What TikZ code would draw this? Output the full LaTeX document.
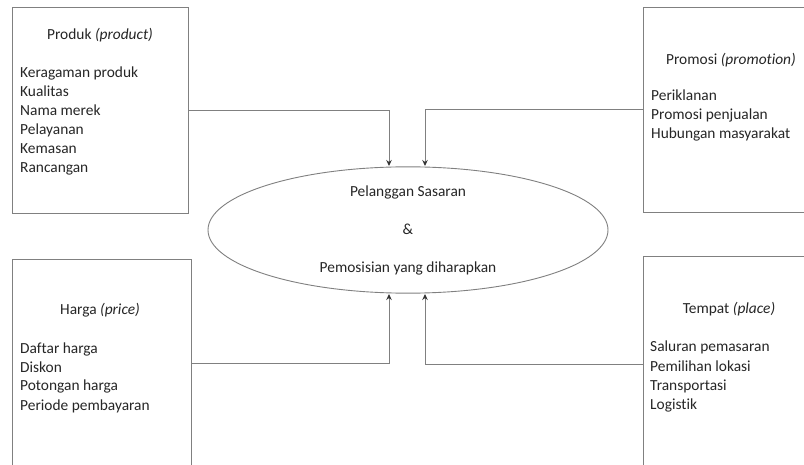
\documentclass[tikz,border=0pt]{standalone}
\usepackage{fontspec}
\setmainfont{Carlito}[Ligatures={NoCommon}]
\usetikzlibrary{shapes.geometric,arrows.meta}

\begin{document}
\begin{tikzpicture}[x=1pt, y=-1pt,
  every node/.style={font=\fontsize{15.4}{19}\selectfont, text=black!85},
  box/.style={draw=black!50, line width=0.9pt, rectangle, inner sep=0pt, anchor=north west},
  title/.style={anchor=base},
  item/.style={anchor=base west, inner sep=0pt},
  link/.style={draw=black!50, line width=0.9pt, -{Stealth[length=6pt, width=5.5pt, black!80]}}]
\clip (0,0) rectangle (804,465);
\fill[white] (0,0) rectangle (804,465);
% four boxes
\node[box, minimum width=176, minimum height=206] (prod) at (12,7) {};
\node[box, minimum width=176, minimum height=205] (prom) at (643,7) {};
\node[box, minimum width=179, minimum height=208] (harga) at (12,259) {};
\node[box, minimum width=176, minimum height=216] (tmpt) at (643,256) {};
\node[title] (prodT) at (100,40) {Produk \textit{(product)}};
\node[title] (promT) at (731,65) {Promosi \textit{(promotion)}};
\node[title] (hargaT) at (100,315) {Harga \textit{(price)}};
\node[title] (tmptT) at (729,314) {Tempat \textit{(place)}};
\foreach \t [count=\i] in {Keragaman produk,Kualitas,Nama merek,Pelayanan,Kemasan,Rancangan}
  \node[item] (prod\i) at (20,59+19*\i) {\t};
\foreach \t [count=\i] in {Periklanan,Promosi penjualan,Hubungan masyarakat}
  \node[item] (prom\i) at (651,82+19*\i) {\t};
\foreach \t [count=\i] in {Daftar harga,Diskon,Potongan harga,Periode pembayaran}
  \node[item] (harga\i) at (20,334+19*\i) {\t};
\foreach \t [count=\i] in {Saluran pemasaran,Pemilihan lokasi,Transportasi,Logistik}
  \node[item] (tmpt\i) at (650,333+19*\i) {\t};
% target in the middle
\node[ellipse, draw=black!50, line width=0.9pt, minimum width=400, minimum height=112, inner sep=0pt, align=center]
  (tgt) at (408,230) {Pelanggan Sasaran\\[19pt]\&\\[19pt]Pemosisian yang diharapkan};
\foreach \n/\x/\y in {inP/389/166, inQ/425/166, inH/389/294, inT/425/294} \coordinate (\n) at (\x,\y);
\draw[link] (prod.east) -| (inP);
\draw[link] (prom.west) -| (inQ);
\draw[link] (harga.east) -| (inH);
\draw[link] (tmpt.west) -| (inT);
\end{tikzpicture}
\end{document}
